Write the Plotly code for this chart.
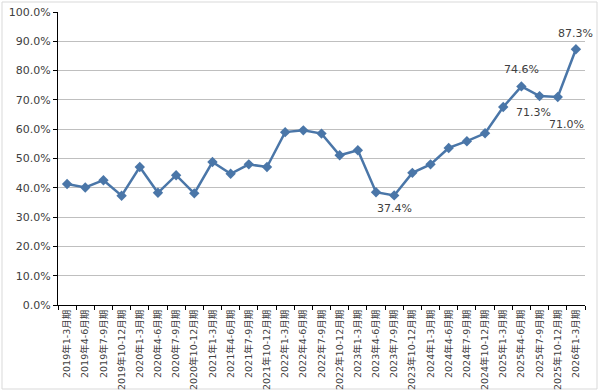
import plotly.graph_objects as go

categories = [
    "2019年1-3月期", "2019年4-6月期", "2019年7-9月期", "2019年10-12月期",
    "2020年1-3月期", "2020年4-6月期", "2020年7-9月期", "2020年10-12月期",
    "2021年1-3月期", "2021年4-6月期", "2021年7-9月期", "2021年10-12月期",
    "2022年1-3月期", "2022年4-6月期", "2022年7-9月期", "2022年10-12月期",
    "2023年1-3月期", "2023年4-6月期", "2023年7-9月期", "2023年10-12月期",
    "2024年1-3月期", "2024年4-6月期", "2024年7-9月期", "2024年10-12月期",
    "2025年1-3月期", "2025年4-6月期", "2025年7-9月期", "2025年10-12月期",
    "2026年1-3月期",
]
values = [
    41.3, 40.1, 42.6, 37.3,
    47.1, 38.3, 44.3, 38.1,
    48.8, 44.8, 48.0, 47.1,
    59.0, 59.6, 58.5, 51.1,
    52.8, 38.5, 37.4, 45.1,
    48.0, 53.6, 55.9, 58.6,
    67.6, 74.6, 71.3, 71.0,
    87.3,
]
# labelled points: index -> (xshift, yshift)
label_idx = [18, 25, 26, 27, 28]
label_off = {18: (0, -13), 25: (0, 17), 26: (-6, -16), 27: (9, -28), 28: (0, 16)}

W, H = 600, 392
L, R, T, B = 58, 15, 12, 87
FONT = "DejaVu Sans, Noto Sans CJK JP"

fig = go.Figure()
fig.add_trace(go.Scatter(
    x=categories, y=values, mode="lines+markers",
    line=dict(color="#4a76a8", width=2.5),
    marker=dict(symbol="diamond", size=8, color="#4a76a8"),
    hoverinfo="skip",
))

annotations = []
for i in label_idx:
    dx, dy = label_off[i]
    annotations.append(dict(
        x=categories[i], y=values[i], xref="x", yref="y",
        text=f"{values[i]:.1f}%", showarrow=False,
        xshift=dx, yshift=dy,
        font=dict(family=FONT, size=11, color="#404040"),
    ))

pw = W - L - R
ph = H - T - B
fig.add_shape(type="rect", xref="paper", yref="paper",
              x0=(2 - L) / pw, x1=(597 - L) / pw,
              y0=(H - B - 389) / ph, y1=(H - B - 2) / ph,
              line=dict(color="#d9d9d9", width=1), layer="below")

fig.update_layout(
    width=W, height=H,
    margin=dict(l=L, r=R, t=T, b=B, pad=0),
    paper_bgcolor="white", plot_bgcolor="white",
    showlegend=False,
    annotations=annotations,
    font=dict(family=FONT, color="#404040"),
    xaxis=dict(
        type="category", range=[-0.5, len(categories) - 0.5],
        tickangle=-90, tickson="boundaries", ticks="outside", ticklen=4,
        tickcolor="black", showline=True, linecolor="black", linewidth=1,
        showgrid=False, tickfont=dict(family=FONT, size=9.5, color="#404040"),
        automargin=False, fixedrange=True,
    ),
    yaxis=dict(
        range=[0, 100], dtick=10, ticksuffix="%", tickformat=".1f",
        showgrid=True, gridcolor="#bfbfbf", gridwidth=1,
        showline=True, linecolor="black", linewidth=1,
        ticks="outside", ticklen=4, tickcolor="black",
        tickfont=dict(family=FONT, size=11, color="#404040"),
        zeroline=False, automargin=False, fixedrange=True,
    ),
)

fig.write_html("out.html")
